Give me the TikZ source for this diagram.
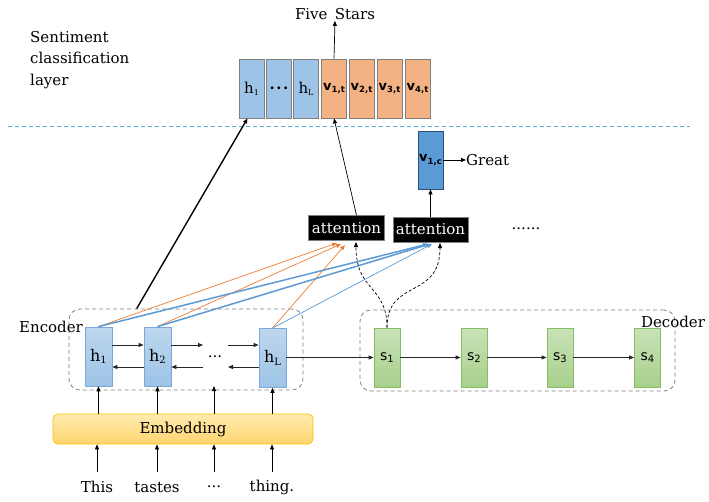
\documentclass[tikz,border=0pt]{standalone}
\usepackage{fontspec}
\setmainfont{DejaVu Serif}
\setsansfont{DejaVu Sans}
\usetikzlibrary{arrows.meta,calc}

\definecolor{hTop}{HTML}{BDD7EE}
\definecolor{hBot}{HTML}{9DC3E6}
\definecolor{hLine}{HTML}{7BA7DA}
\definecolor{sTop}{HTML}{C9E2B8}
\definecolor{sBot}{HTML}{A7D08C}
\definecolor{sLine}{HTML}{86BF62}
\definecolor{eTop}{HTML}{FFEBB0}
\definecolor{eBot}{HTML}{FFD46E}
\definecolor{eLine}{HTML}{FFC000}
\definecolor{cellBlue}{HTML}{9DC3E6}
\definecolor{cellOrange}{HTML}{F4B183}
\definecolor{cellLine}{HTML}{7F7F7F}
\definecolor{ctxBlue}{HTML}{5B9BD5}
\definecolor{ctxLine}{HTML}{2E4F7A}
\definecolor{attOrange}{HTML}{ED7D31}
\definecolor{attBlue}{HTML}{5B9BD5}
\definecolor{sepBlue}{HTML}{5DADE2}

\newcommand\lowidx[2][9]{\raisebox{-0.3ex}{\fontsize{#1}{#1}\selectfont #2}}
\newcommand\vlabel[1]{\sffamily\bfseries\fontsize{13}{13}\selectfont v\lowidx[8.5]{#1}}

\tikzset{
  tip/.style={-{Triangle[length=5pt,width=4pt]}},
  cell/.style={draw=cellLine, line width=0.8pt, minimum width=25pt, minimum height=59pt, inner sep=0pt},
  hcell/.style={cell, fill=cellBlue},
  vcell/.style={cell, fill=cellOrange},
  enccell/.style={draw=hLine, line width=0.8pt, top color=hTop, bottom color=hBot,
    minimum width=27pt, minimum height=59pt, inner sep=0pt},
  deccell/.style={draw=sLine, line width=0.8pt, top color=sTop, bottom color=sBot,
    minimum width=26pt, minimum height=59pt, inner sep=0pt},
  attbox/.style={draw=gray, fill=black, text=white, minimum height=25pt, inner sep=2pt},
  groupbox/.style={draw=gray, dashed, dash pattern=on 4pt off 3pt, rounded corners=11pt, line width=0.8pt},
  flow/.style={tip, line width=0.7pt},
  seqflow/.style={tip, line width=0.8pt, color=black!85},
}

\begin{document}
\begin{tikzpicture}[x=1pt, y=-1pt, font=\fontsize{15}{21.5}\selectfont]
\path[use as bounding box] (0,0) rectangle (709,501);

% ---------- sentiment classification layer ----------
\node[anchor=north west, align=left, inner sep=0pt] (title) at (30,31)
  {Sentiment\\classification\\layer};

\node[hcell] (t1) at (251.5,88.5) {h\lowidx[8]{1}};
\node[hcell] (t2) at (279,88.5) {\bfseries.\kern1.5pt.\kern1.5pt.};
\node[hcell] (t3) at (306,88.5) {h\lowidx[8]{L}};
\node[vcell] (v1) at (334,88.5) {\vlabel{1,t}};
\node[vcell] (v2) at (361.5,88.5) {\vlabel{2,t}};
\node[vcell] (v3) at (389.5,88.5) {\vlabel{3,t}};
\node[vcell] (v4) at (417.5,88.5) {\vlabel{4,t}};

\node[inner sep=1pt] (stars) at (335,14) {Five\, Stars};
\draw[flow] (v1.north) -- (stars.south);

% separator
\coordinate (sepL) at (8,126);
\coordinate (sepR) at (690,126);
\draw[sepBlue, line width=0.8pt, dash pattern=on 4pt off 3pt] (sepL) -- (sepR);

% ---------- attention and context ----------
\node[attbox, minimum width=76pt] (att1) at (346.5,228) {attention};
\node[attbox, minimum width=75pt] (att2) at (430.5,229.5) {attention};
\node at (526,229) {......};

\node[draw=ctxLine, fill=ctxBlue, line width=0.8pt, minimum width=25pt, minimum height=58pt, inner sep=0pt]
  (ctx) at (430.5,160) {\vlabel{1,c}};
\node[anchor=west, inner sep=0pt] (great) at (466,160) {Great};
\draw[flow] (ctx.east) -- (great.west);
\draw[flow] (att2.north) -- (ctx.south);
\draw[flow] ($(att1.north)+(10,0)$) -- (v1.south);

% ---------- encoder ----------
\node[groupbox, minimum width=234pt, minimum height=81pt] (enc) at (186,349.5) {};
\node (enclabel) at (51,327) {Encoder};

\node[enccell] (h1) at (98.5,356.5) {\fontsize{16}{16}\selectfont h\lowidx[10]{1}};
\node[enccell] (h2) at (157.5,356.5) {\fontsize{16}{16}\selectfont h\lowidx[10]{2}};
\node[enccell] (hL) at (272.5,358) {\fontsize{16}{16}\selectfont h\lowidx[10]{L}};
\node (hdots) at (215,357) {...};

\coordinate (m1) at (203,345);
\coordinate (m2) at (228,345);
\coordinate (m3) at (203,367);
\coordinate (m4) at (228,367);
\draw[seqflow] (h1.east |- m1) -- (h2.west |- m1);
\draw[seqflow] (h2.east |- m1) -- (m1);
\draw[seqflow] (m2) -- (hL.west |- m2);
\draw[seqflow] (h2.west |- m3) -- (h1.east |- m3);
\draw[seqflow] (m3) -- (h2.east |- m3);
\draw[seqflow] (hL.west |- m4) -- (m4);

% ---------- decoder ----------
\node[groupbox, minimum width=315pt, minimum height=81pt] (dec) at (517.5,350.5) {};
\node (declabel) at (673,322) {Decoder};

\node[deccell] (s1) at (387,357.5) {\sffamily\fontsize{14}{14}\selectfont s\lowidx[10]{1}};
\node[deccell] (s2) at (474,357.5) {\sffamily\fontsize{14}{14}\selectfont s\lowidx[10]{2}};
\node[deccell] (s3) at (560,357.5) {\sffamily\fontsize{14}{14}\selectfont s\lowidx[10]{3}};
\node[deccell] (s4) at (647.5,357.5) {\sffamily\fontsize{14}{14}\selectfont s\lowidx[10]{4}};

\draw[seqflow] (hL.east |- s1.west) -- (s1.west);
\draw[seqflow] (s1) -- (s2);
\draw[seqflow] (s2) -- (s3);
\draw[seqflow] (s3) -- (s4);

% ---------- attention weights ----------
\coordinate (o1) at (337,243);
\coordinate (o2) at (341,244);
\coordinate (o3) at (345,245);
\coordinate (b1) at (428,244);
\coordinate (b2) at (430,244);
\coordinate (b3) at (432,244);
\draw[tip, attOrange, line width=0.7pt] (h1.north) -- (o1);
\draw[tip, attOrange, line width=0.7pt] (h2.north) -- (o2);
\draw[tip, attOrange, line width=0.7pt] (hL.north) -- (o3);
\draw[tip, attBlue, line width=1.5pt] (h1.north) -- (b1);
\draw[tip, attBlue, line width=1.5pt] (h2.north) -- (b2);
\draw[tip, attBlue, line width=0.7pt] (hL.north) -- (b3);

% decoder state queries
\coordinate (q1) at (356,242);
\coordinate (q2) at (440,243);
\draw[tip, dashed, dash pattern=on 3pt off 2pt, line width=0.7pt]
  (s1.north) .. controls (387,285) and (356,292) .. (q1);
\draw[tip, dashed, dash pattern=on 3pt off 2pt, line width=0.7pt]
  (s1.north) .. controls (387,278) and (440,300) .. (q2);

% summary of the encoder
\coordinate (encTop) at ($(enc.north west)!0.29!(enc.north east)$);
\draw[tip, line width=1.4pt] (encTop) -- ($(t1.south)+(-4,0)$);

% ---------- embedding and input words ----------
\node[draw=eLine, line width=0.8pt, top color=eTop, bottom color=eBot, rounded corners=5pt,
  minimum width=260pt, minimum height=30pt] (emb) at (183,429) {Embedding};

\node (w1) at (97,487) {This};
\node (w2) at (157,487) {tastes};
\node (w3) at (214,487) {...};
\node (w4) at (272,487) {thing.};
\coordinate (wt1) at (97,472);
\coordinate (wt2) at (157,472);
\coordinate (wt3) at (214,472);
\coordinate (wt4) at (272,472);
\draw[flow] (wt1) -- (wt1 |- emb.south);
\draw[flow] (wt2) -- (wt2 |- emb.south);
\draw[flow] (wt3) -- (wt3 |- emb.south);
\draw[flow] (wt4) -- (wt4 |- emb.south);

\coordinate (mid) at (214,386);
\draw[flow] (h1.south |- emb.north) -- (h1.south);
\draw[flow] (h2.south |- emb.north) -- (h2.south);
\draw[flow] (mid |- emb.north) -- (mid);
\draw[flow] (hL.south |- emb.north) -- (hL.south);
\end{tikzpicture}
\end{document}
